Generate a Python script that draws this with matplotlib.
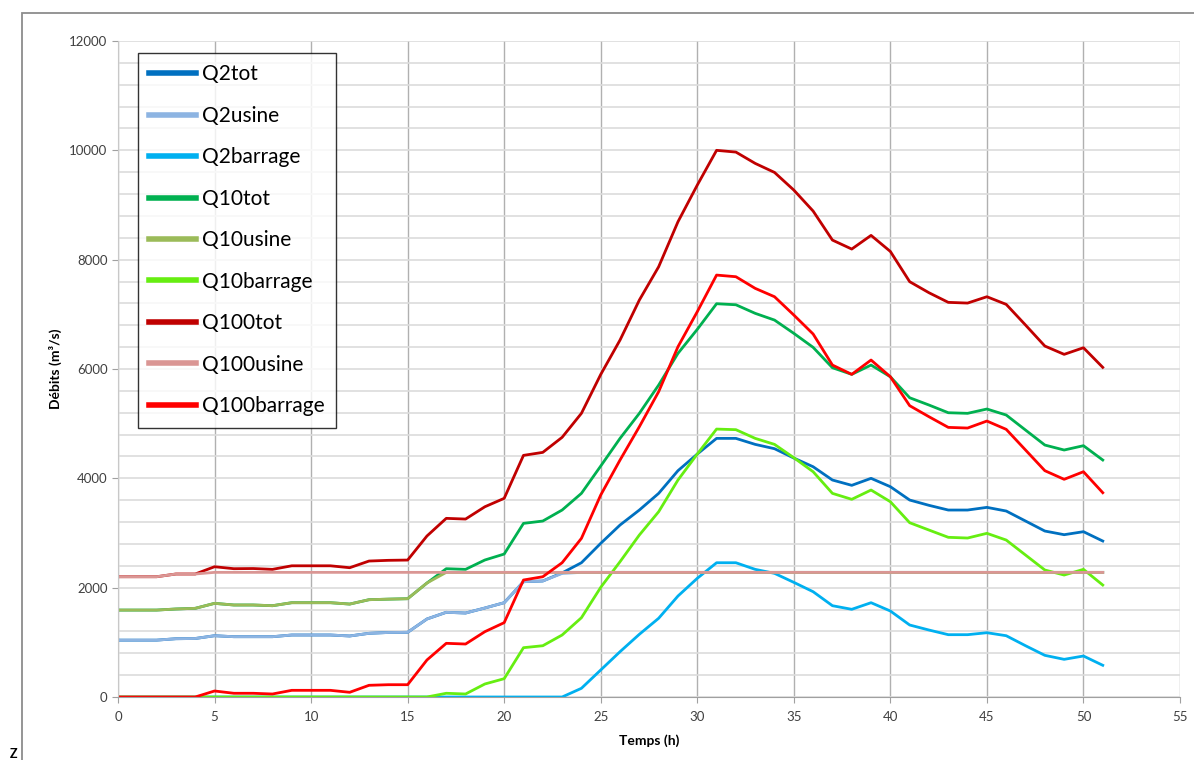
import matplotlib
matplotlib.use('Agg')
import matplotlib.pyplot as plt
from matplotlib.patches import Rectangle
from matplotlib.ticker import MultipleLocator

# data (m3/s, per hour)
hours = list(range(52))

q2tot = [1040, 1040, 1040, 1066, 1070, 1121, 1103, 1103, 1103, 1134, 1134, 1134, 1116, 1165, 1180, 1183,
         1427, 1549, 1536, 1628, 1725, 2109, 2122, 2270, 2456, 2811, 3146,
         3420, 3725, 4140, 4444, 4731, 4731, 4621, 4542, 4371, 4212, 3969, 3872, 4000, 3847,
         3603, 3506, 3420, 3420, 3469, 3402, 3219, 3036, 2969, 3024, 2853]
q2usine = [1040, 1040, 1040, 1066, 1070, 1121, 1103, 1103, 1103, 1134, 1134, 1134, 1116, 1165, 1180, 1183,
           1427, 1549, 1536, 1628, 1725, 2109, 2122, 2260, 2280, 2280, 2280,
           2280, 2280, 2280, 2280, 2280, 2280, 2280, 2280, 2280, 2280, 2280, 2280, 2280, 2280,
           2280, 2280, 2280, 2280, 2280, 2280, 2280, 2280, 2280, 2280, 2280]
q2barrage = [0, 0, 0, 0, 0, 0, 0, 0, 0, 0, 0, 0, 0, 0, 0, 0,
             0, 0, 0, 0, 0, 0, 0, 0, 159, 494, 829,
             1147, 1440, 1847, 2171, 2456, 2456, 2335, 2262, 2097, 1926, 1670, 1604, 1725, 1573,
             1317, 1225, 1140, 1140, 1176, 1121, 938, 762, 689, 750, 580]

q10tot = [1590, 1590, 1590, 1610, 1622, 1713, 1683, 1683, 1670, 1725, 1725, 1725, 1700, 1780, 1790, 1798,
          2085, 2347, 2335, 2506, 2615, 3176, 3219, 3420, 3725, 4225, 4731,
          5189, 5706, 6286, 6725, 7194, 7175, 7018, 6895, 6652, 6396, 6023, 5902, 6072, 5858,
          5474, 5341, 5200, 5189, 5268, 5158, 4883, 4609, 4518, 4597, 4335]
q10usine = [1590, 1590, 1590, 1610, 1622, 1713, 1683, 1683, 1670, 1725, 1725, 1725, 1700, 1780, 1790, 1798,
            2085, 2280, 2280, 2280, 2280, 2280, 2280, 2280, 2280, 2280, 2280,
            2280, 2280, 2280, 2280, 2280, 2280, 2280, 2280, 2280, 2280, 2280, 2280, 2280, 2280,
            2280, 2280, 2280, 2280, 2280, 2280, 2280, 2280, 2280, 2280, 2280]
q10barrage = [0, 0, 0, 0, 0, 0, 0, 0, 0, 0, 0, 0, 0, 0, 0, 0,
              0, 68, 55, 238, 335, 902, 938, 1134, 1450, 2006, 2475,
              2963, 3389, 3969, 4444, 4901, 4890, 4731, 4621, 4377, 4121, 3725, 3616, 3786, 3572,
              3188, 3054, 2921, 2908, 2994, 2871, 2597, 2323, 2231, 2335, 2048]

q100tot = [2200, 2200, 2200, 2250, 2250, 2383, 2347, 2350, 2335, 2400, 2400, 2400, 2365, 2487, 2500, 2505,
           2945, 3268, 3255, 3480, 3634, 4420, 4475, 4750, 5189, 5900, 6530,
           7261, 7870, 8693, 9364, 10000, 9968, 9761, 9596, 9273, 8889, 8358, 8194, 8444, 8150,
           7597, 7395, 7219, 7206, 7322, 7182, 6804, 6420, 6268, 6389, 6030]
q100usine = [2200, 2200, 2200, 2250, 2250, 2280, 2280, 2280, 2280, 2280, 2280, 2280, 2280, 2280, 2280, 2280,
             2280, 2280, 2280, 2280, 2280, 2280, 2280, 2280, 2280, 2280, 2280,
             2280, 2280, 2280, 2280, 2280, 2280, 2280, 2280, 2280, 2280, 2280, 2280, 2280, 2280,
             2280, 2280, 2280, 2280, 2280, 2280, 2280, 2280, 2280, 2280, 2280]
q100barrage = [0, 0, 0, 0, 0, 110, 68, 68, 55, 122, 122, 122, 86, 214, 225, 225,
               677, 982, 969, 1195, 1360, 2140, 2200, 2456, 2902, 3695, 4335,
               4944, 5585, 6407, 7048, 7718, 7688, 7475, 7322, 6987, 6640, 6072, 5902, 6164, 5858,
               5329, 5127, 4932, 4920, 5048, 4896, 4518, 4140, 3982, 4121, 3737]

labels = ['Q2tot', 'Q2usine', 'Q2barrage', 'Q10tot', 'Q10usine', 'Q10barrage',
          'Q100tot', 'Q100usine', 'Q100barrage']
colors = ['#0070C0', '#8DB4E2', '#00B0F0', '#00B050', '#9BBB59', '#66EE11',
          '#C00000', '#DA9694', '#FF0000']
series = [q2tot, q2usine, q2barrage, q10tot, q10usine, q10barrage, q100tot, q100usine, q100barrage]

plt.rcParams['font.family'] = ['Lato', 'DejaVu Sans']

fig = plt.figure(figsize=(11.94, 7.6), dpi=100)
ax = fig.add_axes([118 / 1194, 1 - 697 / 760, (1180 - 118) / 1194, (697 - 41) / 760])

for s, lab, c in zip(series, labels, colors):
    ax.plot(hours, s, color=c, lw=2.0, label=lab)

ax.set_xlim(0, 55)
ax.set_ylim(0, 12000)
ax.xaxis.set_major_locator(MultipleLocator(5))
ax.yaxis.set_major_locator(MultipleLocator(2000))
ax.yaxis.set_minor_locator(MultipleLocator(400))

# excel style grid
ax.grid(axis='x', which='major', color='#B0B0B0', lw=1.0)
ax.grid(axis='y', which='both', color='#DCDCDC', lw=1.2)
ax.set_axisbelow(True)
for side in ['top', 'right']:
    ax.spines[side].set_visible(False)
ax.spines['left'].set_color('#C8C8C8')
ax.spines['bottom'].set_color('#A0A0A0')
ax.tick_params(axis='both', which='major', length=4, color='#A0A0A0', labelsize=9.5, labelcolor='#404040')
ax.tick_params(axis='y', which='minor', length=0)
ax.tick_params(axis='x', pad=6)

ax.set_xlabel('Temps (h)', fontsize=10, fontweight='bold', labelpad=8)
ax.set_ylabel('Débits (m³/s)', fontsize=10, fontweight='bold', labelpad=5)

leg = ax.legend(loc='upper left', bbox_to_anchor=(138 / 1194, 1 - 53 / 760),
                bbox_transform=fig.transFigure, borderaxespad=0, fontsize=15,
                frameon=True, fancybox=False, handlelength=2.25, handletextpad=0.25,
                labelspacing=1.03, borderpad=0.55)
leg.get_frame().set_edgecolor('black')
leg.get_frame().set_linewidth(1.0)
for line in leg.get_lines():
    line.set_linewidth(4)

# outer chart frame, cut by the picture edges
fig.patches.append(Rectangle((22.5 / 1194, -0.2), 1.5, 1.2 - 12.5 / 760, transform=fig.transFigure,
                             fill=False, edgecolor='#8C8C8C', lw=1.3))
fig.text(10 / 1194, 1 - 758 / 760, 'Z', fontsize=9, fontweight='bold', va='baseline', ha='left')

plt.savefig('out.png', dpi=100)
